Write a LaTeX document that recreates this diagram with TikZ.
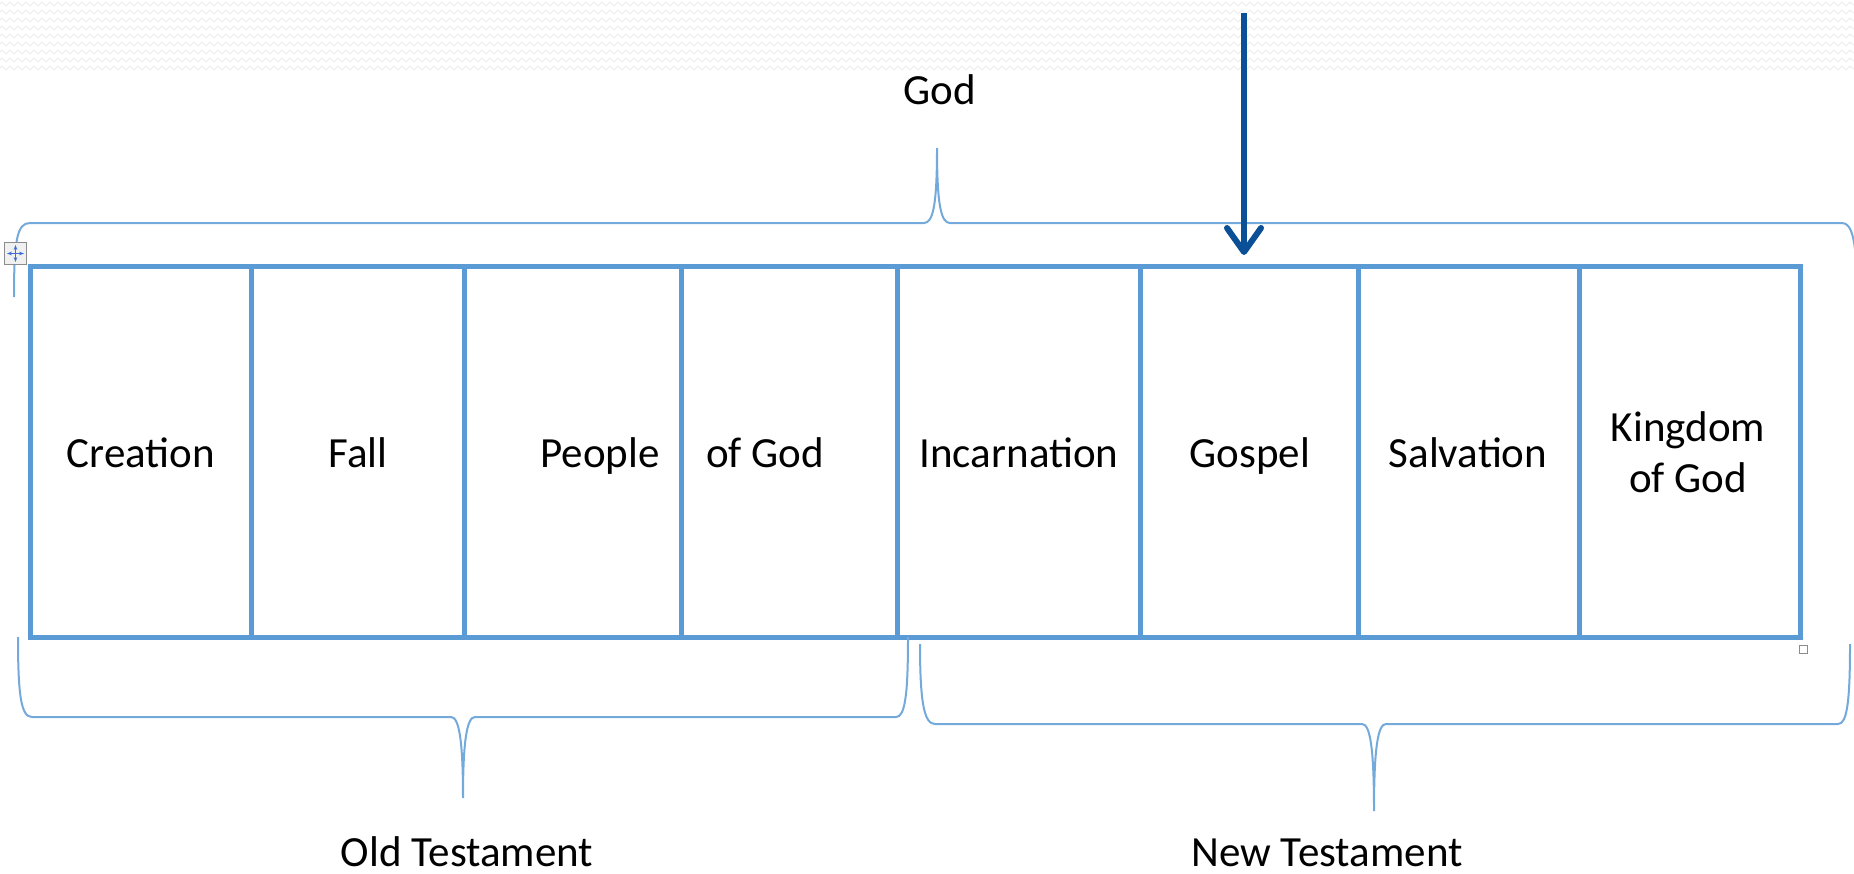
\documentclass[tikz,border=0pt]{standalone}
\usepackage{fontspec}
\setmainfont{Carlito}
\usetikzlibrary{arrows.meta,decorations.pathmorphing}
\definecolor{tableblue}{HTML}{5B9BD5}
\definecolor{arrowblue}{HTML}{0B4F96}
\definecolor{iconblue}{HTML}{3C6FD0}
\newcommand\bigfont{\fontsize{43}{51}\selectfont}

\begin{document}
\begin{tikzpicture}[x=1pt, y=-1pt,
  cell/.style={draw=tableblue, line width=5pt, minimum height=371pt, inner sep=0pt},
  txt/.style={font=\bigfont, inner sep=0pt, anchor=base},
  brace/.style={draw=tableblue!85, line width=2pt}
]
\tikzset{
  zig/.style={draw=black!7, line width=1pt, decorate,
    decoration={zigzag, segment length=8pt, amplitude=2pt}},
  handle/.style={draw=black!45, fill=black!6, line width=1pt, inner sep=0pt}
}
\useasboundingbox[fill=white] (0,0) rectangle (1854,873);
% wavy band at the top
\foreach \y in {4,12,...,68}
  \draw[zig] (0,\y) -- (1854,\y);

% the eight cells
\foreach \n/\l/\r in {1/30/251, 2/251/464, 3/464/681, 4/681/897,
                      5/897/1140, 6/1140/1358, 7/1358/1579, 8/1579/1800}
  \node[cell, minimum width={(\r-\l)*1pt}] (c\n) at ({(\l+\r)/2},451.5) {};

\node[txt] (creation) at (141,467) {Creation};
\node[txt] (fall) at (358,467) {Fall};
\node[txt, anchor=base east] (people) at (660,467) {People};
\node[txt, anchor=base west] (ofgod) at (706,467) {of God};
\node[txt] (incarnation) at (1019,467) {Incarnation};
\node[txt] (gospel) at (1250,467) {Gospel};
\node[txt] (salvation) at (1468,467) {Salvation};
\node[txt, align=center] (kingdom) at (1688,492) {Kingdom\\of God};

% braces
\node[txt] (god) at (940,104) {God};
\coordinate (godtip) at (937,148);
\coordinate (topL) at (14,297);
\coordinate (topR) at (1857,297);
\draw[brace] (topL) .. controls (14,240) and (17,223) .. (30,223) -- (924,223)
  .. controls (933,223) and (937,205) .. (godtip)
  .. controls (937,205) and (941,223) .. (950,223) -- (1842,223)
  .. controls (1852,223) and (1857,240) .. (topR);

\node[txt] (old) at (467,866) {Old Testament};
\coordinate (oldtip) at (463,798);
\coordinate (oldL) at (18,637);
\coordinate (oldR) at (908,637);
\draw[brace] (oldL) .. controls (18,695) and (21,717) .. (32,717) -- (451,717)
  .. controls (459,717) and (463,740) .. (oldtip)
  .. controls (463,740) and (467,717) .. (475,717) -- (896,717)
  .. controls (905,717) and (908,695) .. (oldR);

\node[txt] (new) at (1327,866) {New Testament};
\coordinate (newtip) at (1374,811);
\coordinate (newL) at (920,644);
\coordinate (newR) at (1850,644);
\draw[brace] (newL) .. controls (920,702) and (924,724) .. (935,724) -- (1362,724)
  .. controls (1370,724) and (1374,747) .. (newtip)
  .. controls (1374,747) and (1378,724) .. (1386,724) -- (1838,724)
  .. controls (1847,724) and (1850,702) .. (newR);

% the arrow
\coordinate (arrowtop) at (1244,13);
\coordinate (arrowtip) at (1244,255);
\draw[arrowblue, line width=6pt, -{Straight Barb[length=24pt,width=34pt,round]}]
  (arrowtop) -- (arrowtip);

% table handles
\node[handle, minimum size=22pt] (move) at (15.5,253.5) {};
\draw[iconblue, line width=1.2pt, {Stealth[length=5pt]}-{Stealth[length=5pt]},
  shorten >=3pt, shorten <=3pt] (move.north) -- (move.south);
\draw[iconblue, line width=1.2pt, {Stealth[length=5pt]}-{Stealth[length=5pt]},
  shorten >=3pt, shorten <=3pt] (move.west) -- (move.east);
\node[handle, fill=white, minimum size=8pt] (resize) at (1803,649) {};
\end{tikzpicture}
\end{document}
